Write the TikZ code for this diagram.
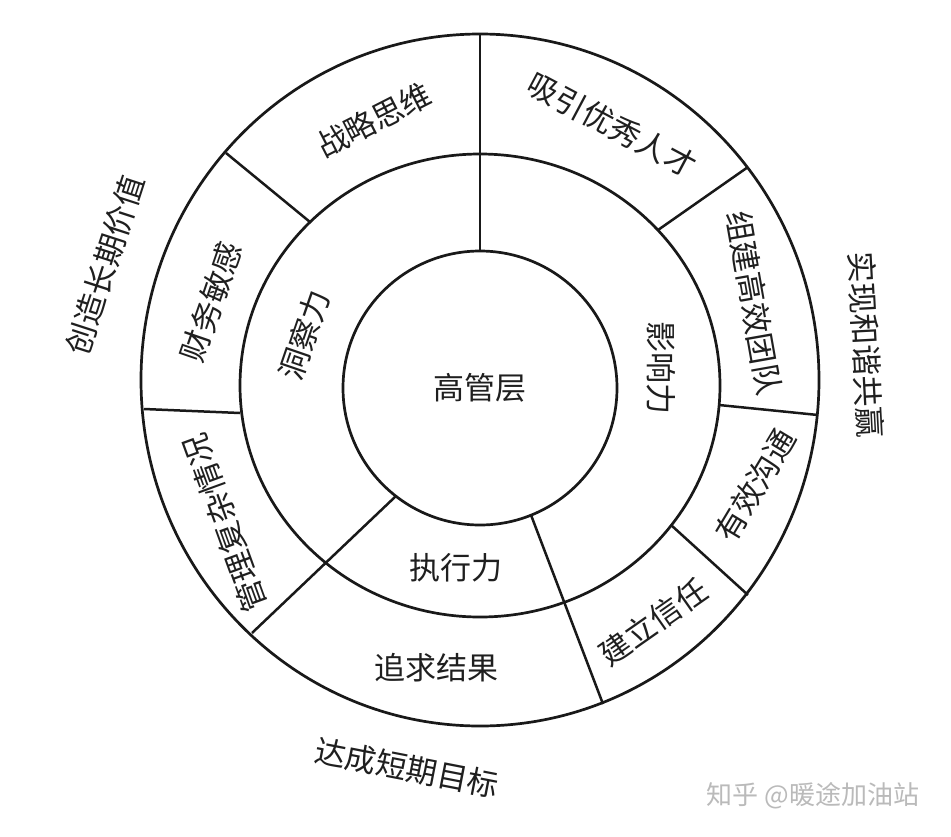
\documentclass[tikz,border=0pt]{standalone}
\usepackage{fontspec}
\setmainfont{Noto Sans CJK SC}
\begin{document}
\begin{tikzpicture}[x=1pt,y=-1pt,
  ring/.style={line width=2.7pt, draw=black!90},
  sepline/.style={line width=2.5pt, draw=black!90},
  lbl/.style={font=\fontsize{31}{31}\selectfont, text=black!88, inner sep=0pt},
  wm/.style={font=\fontsize{26}{26}\selectfont, text=black!27, inner sep=0pt}]
\useasboundingbox (0,0) rectangle (951,836);
\fill[white] (0,0) rectangle (951,836);

% rings
\draw[ring] (480,380) ellipse [x radius=339pt, y radius=346pt];
\draw[ring] (480,385.5) ellipse [x radius=240pt, y radius=231.5pt];
\draw[ring] (480,388) ellipse [x radius=137pt, y radius=137pt];

% separator end points
\coordinate (topO) at (480,34);
\coordinate (topI) at (480,251);
\coordinate (ulO) at (226,153);
\coordinate (ulM) at (310,222);
\coordinate (urO) at (748,167);
\coordinate (urM) at (658,230);
\coordinate (lO) at (144,409);
\coordinate (lM) at (240,413);
\coordinate (rM) at (719,405);
\coordinate (rO) at (818,415);
\coordinate (llI) at (396,496);
\coordinate (llO) at (252,633);
\coordinate (lrI) at (531,515);
\coordinate (lrO) at (603,704);
\coordinate (brM) at (671,525);
\coordinate (brO) at (748,595);

\draw[sepline] (topO) -- (topI);
\draw[sepline] (ulO) -- (ulM);
\draw[sepline] (urO) -- (urM);
\draw[sepline] (lO) -- (lM);
\draw[sepline] (rM) -- (rO);
\draw[sepline] (llI) -- (llO);
\draw[sepline] (lrI) -- (lrO);
\draw[sepline] (brM) -- (brO);

% labels
\node[lbl] (core) at (480,388) {高管层};
\node[lbl, rotate=27] (zl) at (374,120) {战略思维};
\node[lbl, rotate=-28] (xy) at (612,125) {吸引优秀人才};
\node[lbl, rotate=71] (cw) at (211,302) {财务敏感};
\node[lbl, rotate=71] (dc) at (304,335) {洞察力};
\node[lbl, rotate=-90] (yx) at (661,368) {影响力};
\node[lbl, rotate=-80] (zj) at (754,303) {组建高效团队};
\node[lbl, rotate=59] (yg) at (755,485) {有效沟通};
\node[lbl, rotate=35] (jl) at (653,622) {建立信任};
\node[lbl] (zx) at (456,568) {执行力};
\node[lbl] (zq) at (436,668) {追求结果};
\node[lbl, rotate=110] (gl) at (225,523) {管理复杂情况};
\node[lbl, rotate=72] (cz) at (105,265) {创造长期价值};
\node[lbl, rotate=-87] (sx) at (866,345) {实现和谐共赢};
\node[lbl, rotate=-11] (dc2) at (407,768) {达成短期目标};
\node[wm] (mark) at (813,796) {知乎 @暖途加油站};
\end{tikzpicture}
\end{document}
